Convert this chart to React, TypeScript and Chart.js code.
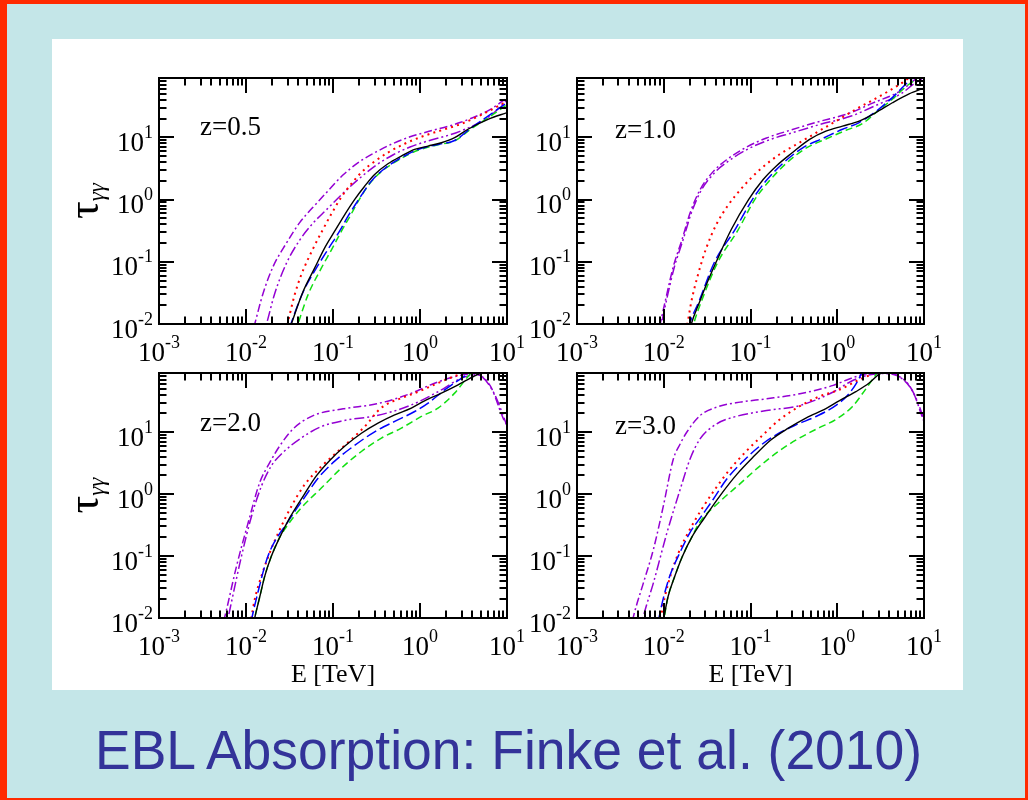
import React, { useEffect, useRef } from "react";
import { Chart, registerables } from "chart.js";

Chart.register(...registerables);

type Pair = [number, number];

/* ---------- axes and text ---------- */
const E_MIN = 1e-3;
const E_MAX = 10;
const TAU_MIN = 1e-2;
const TAU_MAX = 90;
const E_DECADES = [-3, -2, -1, 0, 1];
const TAU_DECADES = [-2, -1, 0, 1];
const TICK_MULTIPLIERS = [1, 2, 3, 4, 5, 6, 7, 8, 9];

const REDSHIFT_LABELS = ["z=0.5", "z=1.0", "z=2.0", "z=3.0"];
const X_TITLE = "E [TeV]";
const Y_TITLE_MAIN = "τ";
const Y_TITLE_SUB = "γγ";
const SLIDE_TITLE = "EBL Absorption: Finke et al. (2010)";

/* ---------- optical depth curves: [E in TeV, tau] ---------- */
// z = 0.5
const Z05_SOLID: Pair[] = [[0.028, 0.005], [0.0332, 0.01], [0.0452, 0.033], [0.0615, 0.079], [0.08, 0.166], [0.1045, 0.31], [0.136, 0.57], [0.177, 1.0], [0.231, 1.64], [0.301, 2.53], [0.428, 3.76], [0.61, 5.0], [0.868, 6.4], [1.236, 7.24], [1.76, 8.2], [2.5, 9.9], [3.56, 13.5], [6.05, 19.5], [10, 25]];
const Z05_LONG_DASH: Pair[] = [[0.028, 0.005], [0.0328, 0.01], [0.0455, 0.033], [0.0643, 0.079], [0.088, 0.16], [0.119, 0.31], [0.15, 0.55], [0.197, 1.0], [0.276, 1.98], [0.393, 3.16], [0.61, 4.7], [0.948, 6.4], [1.61, 7.7], [2.5, 8.9], [3.89, 14.3], [6.05, 22], [10, 36]];
const Z05_DASH: Pair[] = [[0.034, 0.005], [0.0396, 0.01], [0.0516, 0.0294], [0.0734, 0.079], [0.097, 0.16], [0.125, 0.31], [0.158, 0.55], [0.2, 1.0], [0.276, 1.95], [0.393, 3.1], [0.61, 4.6], [0.948, 6.2], [1.61, 7.6], [2.5, 8.8], [3.89, 13.8], [6.05, 20.5], [10, 33.6]];
const Z05_DOT: Pair[] = [[0.026, 0.005], [0.0299, 0.01], [0.0362, 0.0294], [0.0432, 0.0617], [0.0594, 0.166], [0.0753, 0.316], [0.0957, 0.587], [0.125, 1.1], [0.163, 1.8], [0.221, 2.9], [0.301, 4.1], [0.428, 5.7], [0.667, 7.9], [1.036, 10.2], [1.76, 13], [2.98, 16.5], [5.07, 23], [10, 38]];
const Z05_DASH_DOT: Pair[] = [[0.011, 0.005], [0.0126, 0.01], [0.0157, 0.031], [0.0205, 0.084], [0.0292, 0.2], [0.0416, 0.43], [0.0592, 0.76], [0.0843, 1.3], [0.131, 2.5], [0.204, 4.1], [0.318, 5.9], [0.493, 8.0], [0.768, 10.2], [1.19, 12.2], [2.88, 17.3], [6.38, 28], [10, 43]];
const Z05_DASH_DOT_DOT: Pair[] = [[0.0148, 0.005], [0.0172, 0.01], [0.0214, 0.031], [0.0292, 0.095], [0.0416, 0.225], [0.0592, 0.42], [0.0843, 0.69], [0.131, 1.27], [0.204, 2.22], [0.318, 3.63], [0.493, 5.26], [0.768, 7.0], [1.19, 8.63], [2.88, 12.5], [6.38, 22], [10, 40]];

// z = 1.0
const Z10_SOLID: Pair[] = [[0.0185, 0.005], [0.0208, 0.01], [0.026, 0.023], [0.031, 0.043], [0.0403, 0.1], [0.06, 0.33], [0.095, 1.0], [0.14, 2.1], [0.2, 3.5], [0.3, 5.6], [0.48, 9.3], [0.74, 12.6], [1.15, 15.2], [1.79, 18.3], [2.78, 25], [4.32, 36], [6.73, 50], [10, 62]];
const Z10_LONG_DASH: Pair[] = [[0.0178, 0.005], [0.0199, 0.01], [0.0254, 0.0229], [0.0386, 0.1], [0.0655, 0.32], [0.105, 1.0], [0.151, 2.0], [0.235, 3.8], [0.4, 6.8], [0.678, 9.6], [1.15, 13.5], [1.79, 17.3], [2.78, 26], [4.32, 43.6], [6.15, 71.6], [8.0, 98]];
const Z10_DASH: Pair[] = [[0.0195, 0.005], [0.0221, 0.01], [0.0271, 0.0229], [0.0422, 0.1], [0.0715, 0.32], [0.112, 1.0], [0.165, 2.0], [0.257, 3.8], [0.436, 6.7], [0.741, 9.4], [1.26, 13], [1.95, 16.6], [2.78, 25], [4.32, 41], [6.15, 65], [8.8, 94]];
const Z10_DOT: Pair[] = [[0.0165, 0.005], [0.0187, 0.01], [0.0208, 0.0229], [0.0248, 0.0617], [0.0309, 0.166], [0.0403, 0.395], [0.0548, 0.8], [0.0817, 1.6], [0.127, 3.0], [0.215, 5.3], [0.366, 8.2], [0.621, 12.7], [1.05, 19.5], [1.64, 28.3], [2.55, 39.5], [3.96, 56], [5.64, 76], [7, 95]];
const Z10_DASH_DOT: Pair[] = [[0.0082, 0.005], [0.0091, 0.01], [0.0109, 0.031], [0.0129, 0.084], [0.0162, 0.225], [0.0201, 0.607], [0.0262, 1.44], [0.0373, 2.84], [0.0532, 4.38], [0.0903, 7.0], [0.153, 9.77], [0.285, 13], [0.578, 17.5], [1.4, 24.7], [2.59, 35.8], [5.25, 55], [7.47, 80], [10, 110]];
const Z10_DASH_DOT_DOT: Pair[] = [[0.0085, 0.005], [0.0094, 0.01], [0.0112, 0.031], [0.0133, 0.084], [0.0167, 0.225], [0.0207, 0.6], [0.027, 1.4], [0.0385, 2.7], [0.055, 4.1], [0.0935, 6.5], [0.16, 9.0], [0.3, 11.8], [0.6, 15.8], [1.45, 22], [2.7, 32], [5.4, 50], [7.8, 74], [10, 92]];

// z = 2.0
const Z20_SOLID: Pair[] = [[0.0115, 0.005], [0.0126, 0.01], [0.0144, 0.022], [0.0164, 0.047], [0.0196, 0.1], [0.0244, 0.2], [0.032, 0.42], [0.047, 1.0], [0.064, 1.95], [0.09, 3.4], [0.136, 5.9], [0.212, 9.6], [0.329, 14], [0.512, 19], [0.795, 24.4], [1.13, 32], [1.76, 42.6], [2.74, 58], [4.25, 81], [5.53, 95]];
const Z20_LONG_DASH: Pair[] = [[0.0107, 0.005], [0.0117, 0.01], [0.0131, 0.02], [0.0179, 0.1], [0.0304, 0.36], [0.048, 0.92], [0.0673, 1.8], [0.1045, 3.4], [0.177, 6.1], [0.301, 10.1], [0.512, 14.9], [0.869, 21.5], [1.24, 29.4], [1.92, 48], [2.99, 74], [3.89, 92]];
const Z20_DASH: Pair[] = [[0.0115, 0.005], [0.0126, 0.01], [0.0144, 0.022], [0.0164, 0.047], [0.0196, 0.1], [0.0244, 0.2], [0.0278, 0.27], [0.0432, 0.6], [0.0734, 1.25], [0.125, 2.63], [0.212, 4.87], [0.36, 8.0], [0.61, 11.6], [1.036, 17.9], [1.61, 24.4], [2.5, 42.6], [3.56, 79], [4.0, 95]];
const Z20_DOT: Pair[] = [[0.0105, 0.005], [0.0115, 0.01], [0.0126, 0.02], [0.015, 0.047], [0.0187, 0.112], [0.0244, 0.266], [0.0332, 0.632], [0.0472, 1.42], [0.0734, 2.79], [0.114, 4.9], [0.177, 8.5], [0.252, 14], [0.318, 21], [0.393, 27], [0.667, 37], [1.036, 47], [1.61, 62], [2.5, 80], [3.56, 95]];
const Z20_DASH_DOT: Pair[] = [[0.005, 0.005], [0.00597, 0.0136], [0.00778, 0.0686], [0.0106, 0.347], [0.0144, 1.54], [0.0188, 3.25], [0.0245, 6.04], [0.0348, 11.3], [0.0592, 18.5], [0.131, 23.8], [0.318, 28.6], [0.768, 41.6], [1.42, 60.4], [2.42, 77.6], [4.1, 87.7], [6.38, 56.8], [9.1, 16.4], [10, 13]];
const Z20_DASH_DOT_DOT: Pair[] = [[0.0056, 0.005], [0.00652, 0.0136], [0.00887, 0.0995], [0.0116, 0.444], [0.0151, 1.36], [0.0196, 2.87], [0.0267, 4.72], [0.0416, 7.76], [0.0706, 12], [0.131, 15.3], [0.318, 18.5], [0.768, 26.9], [1.85, 50], [2.88, 72.8], [4.49, 84.5], [6.98, 44.4], [10, 12.7]];

// z = 3.0
const Z30_SOLID: Pair[] = [[0.009, 0.005], [0.01, 0.01], [0.0112, 0.022], [0.0134, 0.047], [0.0162, 0.095], [0.021, 0.2], [0.029, 0.4], [0.046, 1.0], [0.07, 2.1], [0.11, 4.1], [0.17, 7.4], [0.27, 11.5], [0.44, 17], [0.74, 24], [1.05, 32], [1.64, 45], [2.33, 62], [2.91, 82], [3.3, 92]];
const Z30_LONG_DASH: Pair[] = [[0.0079, 0.005], [0.0088, 0.01], [0.0098, 0.0198], [0.0117, 0.047], [0.0153, 0.112], [0.0199, 0.235], [0.0271, 0.437], [0.0369, 0.81], [0.0525, 1.7], [0.0817, 3.36], [0.127, 5.9], [0.197, 9.05], [0.335, 13.1], [0.569, 17.9], [0.966, 27], [1.37, 42], [1.79, 74], [1.95, 98]];
const Z30_DASH: Pair[] = [[0.0092, 0.005], [0.0101, 0.01], [0.0112, 0.022], [0.0134, 0.047], [0.0162, 0.095], [0.021, 0.2], [0.0259, 0.35], [0.044, 0.75], [0.0749, 1.45], [0.127, 2.8], [0.215, 5.0], [0.366, 8.0], [0.621, 11.8], [0.966, 16], [1.5, 26], [2.14, 50], [2.78, 84], [3.0, 95]];
const Z30_DOT: Pair[] = [[0.0082, 0.005], [0.0092, 0.01], [0.0103, 0.022], [0.0122, 0.053], [0.0153, 0.126], [0.0199, 0.266], [0.0271, 0.558], [0.0386, 1.17], [0.0574, 2.47], [0.0891, 4.9], [0.139, 9.0], [0.215, 15.8], [0.366, 26], [0.621, 37.6], [1.05, 48], [1.79, 70], [2.55, 87]];
const Z30_DASH_DOT: Pair[] = [[0.004, 0.005], [0.00448, 0.0106], [0.00583, 0.0369], [0.0076, 0.128], [0.0099, 0.644], [0.0129, 3.68], [0.0155, 6.5], [0.0184, 9.96], [0.0262, 18.5], [0.0408, 25.3], [0.0757, 30.5], [0.153, 34.5], [0.371, 41.6], [0.898, 56.8], [1.4, 72.8], [2.17, 87.7], [3.38, 92], [5.25, 77.6], [7.47, 44.4], [9.73, 16.4], [10, 15]];
const Z30_DASH_DOT_DOT: Pair[] = [[0.0052, 0.005], [0.00583, 0.0106], [0.0076, 0.0369], [0.0109, 0.239], [0.0155, 1.2], [0.0201, 3.68], [0.0262, 7.76], [0.0408, 13.6], [0.0634, 17.4], [0.153, 22.3], [0.371, 26.9], [0.898, 44.4], [1.4, 64.4], [2.17, 82], [3.38, 88], [6.27, 64.4], [8.17, 34.5], [10, 16]];

const PANEL_SERIES: Pair[][][] = [
  [Z05_SOLID, Z05_LONG_DASH, Z05_DASH, Z05_DOT, Z05_DASH_DOT, Z05_DASH_DOT_DOT],
  [Z10_SOLID, Z10_LONG_DASH, Z10_DASH, Z10_DOT, Z10_DASH_DOT, Z10_DASH_DOT_DOT],
  [Z20_SOLID, Z20_LONG_DASH, Z20_DASH, Z20_DOT, Z20_DASH_DOT, Z20_DASH_DOT_DOT],
  [Z30_SOLID, Z30_LONG_DASH, Z30_DASH, Z30_DOT, Z30_DASH_DOT, Z30_DASH_DOT_DOT],
];

/* ---------- styling and layout ---------- */
const LINE_STYLES = [
  { color: "#000000", width: 1.4, dash: [] as number[] },
  { color: "#0000ff", width: 1.5, dash: [11, 4] },
  { color: "#11e011", width: 1.5, dash: [7, 4] },
  { color: "#ff0000", width: 2, dash: [2, 4.2] },
  { color: "#9400d3", width: 1.5, dash: [8, 3, 2, 3] },
  { color: "#9400d3", width: 1.5, dash: [10, 3, 2, 3, 2, 3] },
];

const PLOT_BOXES = [
  { left: 159, top: 78, right: 507, bottom: 324 },
  { left: 577, top: 78, right: 924, bottom: 324 },
  { left: 159, top: 373, right: 507, bottom: 618 },
  { left: 577, top: 373, right: 924, bottom: 618 },
];
const PAD = { left: 110, right: 24, top: 30, bottom: 72 };
const REDSHIFT_POS = [
  { dx: 41, dy: 57 },
  { dx: 38, dy: 60 },
  { dx: 41, dy: 58 },
  { dx: 38, dy: 61 },
];
const SERIF = '"Liberation Serif", "Times New Roman", serif';
const MAJOR_LEN = 15;
const MINOR_LEN = 7.5;

function drawPower(ctx: CanvasRenderingContext2D, exp: string, x: number, y: number, align: "center" | "right") {
  ctx.font = `27px ${SERIF}`;
  const wBase = ctx.measureText("10").width;
  ctx.font = `18px ${SERIF}`;
  const wExp = ctx.measureText(exp).width;
  const start = align === "center" ? x - (wBase + wExp) / 2 : x - (wBase + wExp);
  ctx.font = `27px ${SERIF}`;
  ctx.fillText("10", start, y);
  ctx.font = `18px ${SERIF}`;
  ctx.fillText(exp, start + wBase, y - 13);
}

function makeDecor(index: number) {
  return {
    id: "panelDecor",
    afterDatasetsDraw(chart: any) {
      const { ctx, chartArea: a } = chart;
      const xs = chart.scales.x;
      const ys = chart.scales.y;
      ctx.save();
      ctx.setLineDash([]);
      ctx.strokeStyle = "#000";
      ctx.fillStyle = "#000";
      ctx.lineWidth = 2;
      ctx.lineCap = "butt";

      // inward ticks on all four sides
      ctx.beginPath();
      for (const d of E_DECADES) {
        for (const m of TICK_MULTIPLIERS) {
          const v = m * Math.pow(10, d);
          if (v < E_MIN * 0.999 || v > E_MAX * 1.001) continue;
          const px = Math.round(xs.getPixelForValue(v));
          const len = m === 1 ? MAJOR_LEN : MINOR_LEN;
          ctx.moveTo(px, a.bottom);
          ctx.lineTo(px, a.bottom - len);
          ctx.moveTo(px, a.top);
          ctx.lineTo(px, a.top + len);
        }
      }
      for (const d of TAU_DECADES) {
        for (const m of TICK_MULTIPLIERS) {
          const v = m * Math.pow(10, d);
          if (v < TAU_MIN * 0.999 || v > TAU_MAX * 1.001) continue;
          const py = Math.round(ys.getPixelForValue(v));
          const len = m === 1 ? MAJOR_LEN : MINOR_LEN;
          ctx.moveTo(a.left, py);
          ctx.lineTo(a.left + len, py);
          ctx.moveTo(a.right, py);
          ctx.lineTo(a.right - len, py);
        }
      }
      ctx.stroke();
      ctx.strokeRect(a.left, a.top, a.right - a.left, a.bottom - a.top);

      // tick labels
      ctx.textAlign = "left";
      ctx.textBaseline = "alphabetic";
      for (const d of E_DECADES) {
        const px = xs.getPixelForValue(Math.pow(10, d));
        drawPower(ctx, String(d), px, a.bottom + 37, "center");
      }
      for (const d of TAU_DECADES) {
        const py = ys.getPixelForValue(Math.pow(10, d));
        drawPower(ctx, String(d), a.left - 6, py + 13.5, "right");
      }

      // redshift label
      ctx.font = `27px ${SERIF}`;
      const pos = REDSHIFT_POS[index];
      ctx.fillText(REDSHIFT_LABELS[index], a.left + pos.dx, a.top + pos.dy);

      // axis titles
      if (index >= 2) {
        ctx.font = `26px ${SERIF}`;
        ctx.textAlign = "center";
        ctx.fillText(X_TITLE, (a.left + a.right) / 2, a.bottom + 64);
        ctx.textAlign = "left";
      }
      if (index % 2 === 0) {
        ctx.save();
        ctx.translate(a.left - 61, (a.top + a.bottom) / 2);
        ctx.rotate(-Math.PI / 2);
        ctx.font = `44px ${SERIF}`;
        const wMain = ctx.measureText(Y_TITLE_MAIN).width;
        ctx.font = `italic 23px ${SERIF}`;
        const wSub = ctx.measureText(Y_TITLE_SUB).width;
        const start = -(wMain + wSub) / 2;
        ctx.font = `44px ${SERIF}`;
        ctx.fillText(Y_TITLE_MAIN, start, 0);
        ctx.font = `italic 23px ${SERIF}`;
        ctx.fillText(Y_TITLE_SUB, start + wMain, 6);
        ctx.restore();
      }
      ctx.restore();
    },
  };
}

function Panel({ index }: { index: number }) {
  const ref = useRef<HTMLCanvasElement>(null);
  const box = PLOT_BOXES[index];
  const width = box.right - box.left + PAD.left + PAD.right;
  const height = box.bottom - box.top + PAD.top + PAD.bottom;

  useEffect(() => {
    if (!ref.current) return;
    const chart = new Chart(ref.current, {
      type: "line",
      data: {
        datasets: PANEL_SERIES[index].map((pts, i) => ({
          data: pts.map(([x, y]) => ({ x, y })),
          borderColor: LINE_STYLES[i].color,
          borderWidth: LINE_STYLES[i].width,
          borderDash: LINE_STYLES[i].dash,
          pointRadius: 0,
          fill: false,
          cubicInterpolationMode: "monotone" as const,
          clip: 0,
        })),
      },
      options: {
        animation: false,
        responsive: false,
        maintainAspectRatio: false,
        events: [],
        layout: { padding: PAD },
        plugins: { legend: { display: false }, tooltip: { enabled: false } },
        scales: {
          x: { type: "logarithmic", min: E_MIN, max: E_MAX, display: false },
          y: { type: "logarithmic", min: TAU_MIN, max: TAU_MAX, display: false },
        },
      },
      plugins: [makeDecor(index)],
    } as any);
    return () => chart.destroy();
  }, [index]);

  return (
    <canvas
      ref={ref}
      width={width}
      height={height}
      style={{
        position: "absolute",
        left: box.left - PAD.left,
        top: box.top - PAD.top,
        width,
        height,
      }}
    />
  );
}

export default function App() {
  return (
    <div
      style={{
        position: "fixed",
        left: 0,
        top: 0,
        width: 1028,
        height: 800,
        overflow: "hidden",
        background: "#ff2a00",
      }}
    >
      <div style={{ position: "absolute", left: 7, top: 4, width: 1018, height: 794, background: "#c4e6e8" }} />
      <div style={{ position: "absolute", left: 52, top: 39, width: 911, height: 651, background: "#ffffff" }} />
      {PLOT_BOXES.map((_, i) => (
        <Panel key={i} index={i} />
      ))}
      <div
        style={{
          position: "absolute",
          left: 95,
          top: 723,
          font: '55px "Liberation Sans", Arial, sans-serif',
          lineHeight: "55px",
          color: "#333399",
          whiteSpace: "nowrap",
          transform: "scaleX(0.972)",
          transformOrigin: "left top",
        }}
      >
        {SLIDE_TITLE}
      </div>
    </div>
  );
}
